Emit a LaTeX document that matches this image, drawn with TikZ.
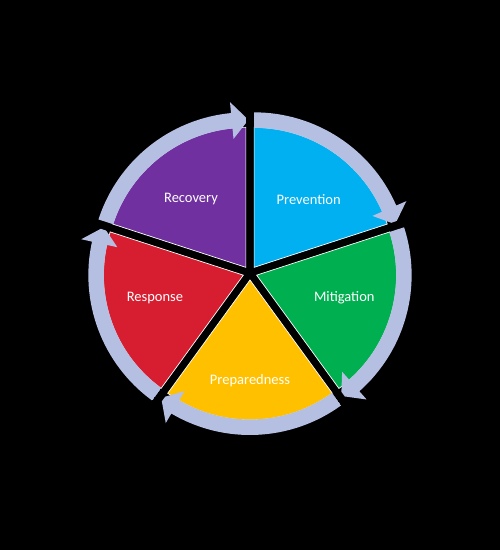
\documentclass[tikz,border=0pt]{standalone}
\usepackage{fontspec}
\setmainfont{Carlito}
\definecolor{cPrev}{HTML}{00B0F0}
\definecolor{cMit}{HTML}{00B050}
\definecolor{cPrep}{HTML}{FFC000}
\definecolor{cResp}{HTML}{D71E30}
\definecolor{cRec}{HTML}{7030A0}
\definecolor{ringc}{HTML}{B4BFE2}
\begin{document}
\begin{tikzpicture}[x=1pt,y=1pt,
  wedge/.style={draw=white, line width=0.7pt},
  lab/.style={text=white, font=\fontsize{14.5}{16}\selectfont, inner sep=0pt},
  ringarrow/.style={fill=ringc}]
\fill[black] (-250,-277) rectangle (250,273);
\useasboundingbox (-250,-277) rectangle (250,273);
% wedges (exploded pie)
\foreach \b/\col in {54/cPrev, -18/cMit, -90/cPrep, -162/cResp, 126/cRec} {
  \begin{scope}[shift={(\b:7)}]
    \filldraw[wedge, fill=\col] (0,0) -- (\b+36:140) arc[start angle=\b+36, end angle=\b-36, radius=140] -- cycle;
  \end{scope}
}
% circular arrows
\foreach \b in {54, -18, -90, -162, 126} {
  \begin{scope}[shift={(\b:7)}]
    \clip (0,0) -- (\b+36:220) arc[start angle=\b+36, end angle=\b-36, radius=220] -- cycle;
    \fill[ringarrow] (\b+36:155) arc[start angle=\b+36, end angle=\b-30.5, radius=155]
      -- (\b-30.5:166) -- (\b-37:147.5) -- (\b-30.5:129) -- (\b-30.5:139.5)
      arc[start angle=\b-30.5, end angle=\b+36, radius=139.5] -- cycle;
  \end{scope}
}
% labels
\node[lab] (prev) at (58.7,73.5) {Prevention};
\node[lab] (rec) at (-59,73.5) {Recovery};
\node[lab] (mit) at (94.3,-25) {Mitigation};
\node[lab] (resp) at (-95,-25) {Response};
\node[lab] (prep) at (0,-107.5) {Preparedness};
\end{tikzpicture}
\end{document}
